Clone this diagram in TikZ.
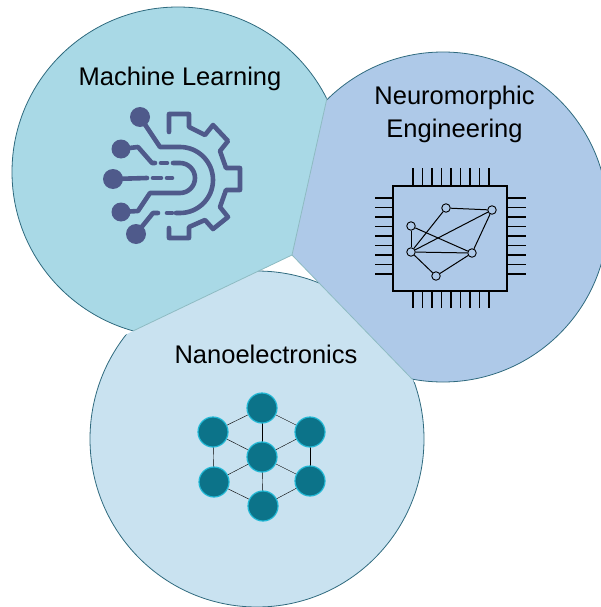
\documentclass[tikz,border=0pt]{standalone}
\usepackage{fontspec}
\setmainfont{Liberation Sans}
\usepackage{tikz}
\usetikzlibrary{backgrounds}

\definecolor{mlfill}{HTML}{A9D9E6}
\definecolor{neurofill}{HTML}{AEC9E8}
\definecolor{nanofill}{HTML}{C9E2F0}
\definecolor{rimline}{HTML}{2F6A7E}
\definecolor{seamline}{HTML}{8DBBC2}
\definecolor{gearblue}{HTML}{4F5A8B}
\definecolor{atomfill}{HTML}{0C7389}
\definecolor{atomrim}{HTML}{22B8D5}
\definecolor{bondfill}{HTML}{1B6475}

\tikzset{
  lobe/.style={draw=rimline,line width=0.8pt},
  seam/.style={draw=seamline,line width=0.8pt},
  title/.style={font=\fontsize{25.5}{33}\selectfont,align=center,text=black},
  trace/.style={draw=gearblue,line width=4.6pt,line cap=round,line join=round},
  pin/.style={draw=black,line width=1.2pt},
}

\begin{document}
\begin{tikzpicture}[x=1pt,y=-1pt]
      \useasboundingbox (0,0) rectangle (600,607);

      % the three lobes
      \begin{scope}[on background layer]
        \begin{scope}
          \clip (292,255) -- (327,98) -- (360,-50) -- (-100,-100) -- (-100,700) -- (40,380) -- (133,331) -- cycle;
          \draw[lobe,fill=mlfill] (178,172) ellipse (166 and 165);
        \end{scope}
        \begin{scope}
          \clip (292,255) -- (327,98) -- (360,-50) -- (700,-50) -- (700,700) -- (440,410) -- (412,379) -- cycle;
          \draw[lobe,fill=neurofill] (443,217) ellipse (165 and 165);
        \end{scope}
        \begin{scope}
          \clip (292,255) -- (133,331) -- (40,380) -- (-100,700) -- (700,700) -- (440,410) -- (412,379) -- cycle;
          \draw[lobe,fill=nanofill] (257,439) ellipse (167 and 168);
        \end{scope}
        \coordinate (notch_ml) at (327,98);
        \coordinate (notch_nano) at (133,331);
        \coordinate (notch_neuro) at (412,379);
        \coordinate (hub) at (292,255);
        \draw[seam] (hub) -- (notch_ml);
        \draw[seam] (hub) -- (notch_nano);
        \draw[seam] (hub) -- (notch_neuro);
      \end{scope}

      \node[title] (ml_title) at (180,79) {Machine Learning};
      \node[title] (neuro_title) at (454.5,114) {Neuromorphic\\Engineering};
      \node[title] (nano_title) at (266,354) {Nanoelectronics};

      % gear icon
      \begin{scope}[every node/.style={circle,fill=gearblue,inner sep=0pt}]
        \node[minimum size=20pt] (t1) at (140,117) {};
        \node[minimum size=19pt] (t2) at (121,149) {};
        \node[minimum size=20pt] (t3) at (113,179) {};
        \node[minimum size=19pt] (t4) at (121,212) {};
        \node[minimum size=20pt] (t5) at (136,234) {};
      \end{scope}

      \draw[trace] (169,132) -- (169,114) -- (189,114) -- (189,127) -- (205,135) -- (213,125)
        -- (228,141) -- (220,151) -- (226,168) -- (240,168) -- (240,190) -- (226,190)
        -- (220,207) -- (228,217) -- (213,229) -- (205,220) -- (189,227) -- (189,238)
        -- (169,238) -- (169,228);

      \draw[trace] (t1.center) -- (160,147) -- (180,147) arc (-90:90:33) -- (176,213);
      \draw[trace] (167,213) -- (172,213);
      \draw[trace] (t5.center) -- (153,213) -- (158,213);
      \draw[trace] (t2.center) -- (138,147) -- (152,163) -- (155,163);
      \draw[trace] (161,163) -- (167,163);
      \draw[trace] (173,163) -- (180,163) arc (-90:90:15) -- (150,193) -- (138,211) -- (t4.center);
      \draw[trace] (t3.center) -- (147,178);
      \draw[trace] (153,178) -- (161,178);
      \draw[trace] (167,178) -- (172,178);

      % chip icon
      \node[draw=black,line width=2.8pt,minimum width=114pt,minimum height=105pt,inner sep=0pt] (chip) at (450,238.5) {};
      \foreach \k in {0,...,8} {
        \draw[pin] ({413+9.5*\k},168) -- ({413+9.5*\k},185);
        \draw[pin] ({413+9.5*\k},292) -- ({413+9.5*\k},308);
        \draw[pin] (375,{198+9.5*\k}) -- (392,{198+9.5*\k});
        \draw[pin] (508,{198+9.5*\k}) -- (526,{198+9.5*\k});
      }

      \begin{scope}[every node/.style={circle,draw=black,fill=neurofill,line width=0.9pt,inner sep=0pt,minimum size=8.5pt}]
        \node[] (n1) at (446,208) {};
        \node[] (n2) at (492,210) {};
        \node[] (n3) at (411,226) {};
        \node[] (n4) at (411,252) {};
        \node[] (n5) at (472,253) {};
        \node[] (n6) at (436,276) {};
      \end{scope}

      \begin{scope}[line width=1pt]
        \path [-] (n1) edge (n2);
        \path [-] (n1) edge (n4);
        \path [-] (n2) edge (n4);
        \path [-] (n2) edge (n5);
        \path [-] (n3) edge (n4);
        \path [-] (n3) edge (n5);
        \path [-] (n4) edge (n5);
        \path [-] (n4) edge (n6);
        \path [-] (n5) edge (n6);
      \end{scope}

      % crystal icon
      \begin{scope}[every node/.style={circle,draw=atomrim,fill=atomfill,line width=1.2pt,inner sep=0pt,minimum size=30pt}]
        \node[] (a_top) at (262,408) {};
        \node[] (a_ul) at (213,432) {};
        \node[] (a_ur) at (310,432) {};
        \node[] (a_mid) at (262,457) {};
        \node[] (a_ll) at (214,482) {};
        \node[] (a_lr) at (310,481) {};
        \node[] (a_bot) at (263,506) {};
      \end{scope}

      \begin{scope}[on background layer,draw=bondfill,line width=8pt]
        \path [-] (a_top.center) edge (a_ul.center);
        \path [-] (a_top.center) edge (a_ur.center);
        \path [-] (a_top.center) edge (a_mid.center);
        \path [-] (a_ul.center) edge (a_mid.center);
        \path [-] (a_ur.center) edge (a_mid.center);
        \path [-] (a_ul.center) edge (a_ll.center);
        \path [-] (a_ur.center) edge (a_lr.center);
        \path [-] (a_mid.center) edge (a_ll.center);
        \path [-] (a_mid.center) edge (a_lr.center);
        \path [-] (a_mid.center) edge (a_bot.center);
        \path [-] (a_ll.center) edge (a_bot.center);
        \path [-] (a_lr.center) edge (a_bot.center);
      \end{scope}
    \end{tikzpicture}
\end{document}
